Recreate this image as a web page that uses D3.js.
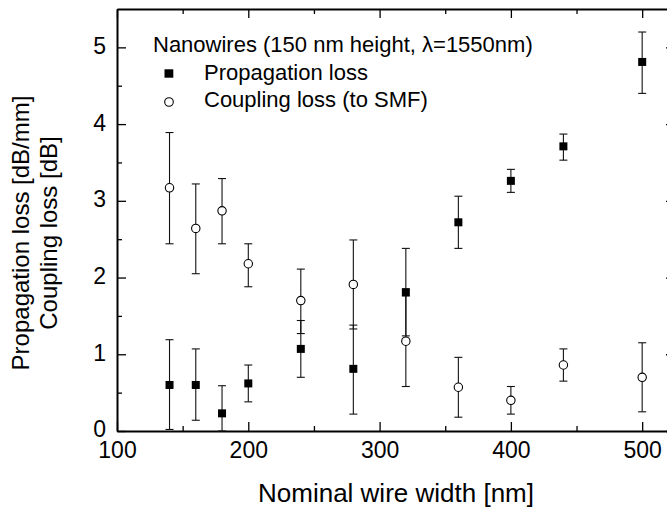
<!DOCTYPE html>
<html>
<head>
<meta charset="utf-8">
<script src="https://cdn.jsdelivr.net/npm/d3@7"></script>
<style>
  body { margin: 0; background: #fff; }
  svg { display: block; font-family: Arial, "Liberation Sans", sans-serif; }
</style>
</head>
<body>
<div id="chart"></div>
<script>
let width = 667;
let height = 508;
let margin = ({top: 9, right: -8, bottom: 77, left: 117});

// wire widths [nm]
let widths = [140, 160, 180, 200, 240, 280, 320, 360, 400, 440, 500];
// propagation loss [dB/mm] with error bar ends
let propLoss = [0.60, 0.60, 0.23, 0.62, 1.07, 0.81, 1.81, 2.72, 3.26, 3.71, 4.81];
let propLow  = [0.02, 0.14, 0.00, 0.38, 0.70, 0.22, 1.24, 2.38, 3.11, 3.53, 4.40];
let propHigh = [1.19, 1.07, 0.59, 0.86, 1.44, 1.38, 2.38, 3.06, 3.41, 3.87, 5.20];
// coupling loss [dB] with error bar ends
let coupLoss = [3.17, 2.64, 2.87, 2.18, 1.70, 1.91, 1.17, 0.57, 0.40, 0.86, 0.70];
let coupLow  = [2.44, 2.05, 2.44, 1.88, 1.27, 1.33, 0.58, 0.18, 0.22, 0.65, 0.25];
let coupHigh = [3.89, 3.22, 3.29, 2.44, 2.11, 2.49, 1.76, 0.96, 0.58, 1.07, 1.15];

let xMajor = [100, 200, 300, 400, 500];
let xMinor = [150, 250, 350, 450];
let yMajor = [0, 1, 2, 3, 4, 5];
let yMinor = [0.5, 1.5, 2.5, 3.5, 4.5];

let propData = widths.map((w, i) => ({w: w, v: propLoss[i], lo: propLow[i], hi: propHigh[i]}));
let coupData = widths.map((w, i) => ({w: w, v: coupLoss[i], lo: coupLow[i], hi: coupHigh[i]}));

let x = d3.scaleLinear()
    .domain([100, 525])
    .range([margin.left, width - margin.right]);
let y = d3.scaleLinear()
    .domain([0, 5.5])
    .range([height - margin.bottom, margin.top]);

let svg = d3.select("#chart")
    .append("svg")
    .attr("width", width)
    .attr("height", height);

// axes
function styleAxis(g) {
    g.select(".domain").attr("stroke", "#000").attr("stroke-width", 2);
    g.selectAll(".tick line").attr("stroke", "#000").attr("stroke-width", 1.3);
    g.selectAll(".tick text").attr("fill", "#000").style("font-size", "23px");
}

svg.append("g")
    .attr("transform", `translate(0,${y(0)})`)
    .call(d3.axisBottom(x).tickValues(xMajor).tickSizeInner(-9).tickSizeOuter(0).tickPadding(11).tickFormat(d3.format("d")))
    .call(styleAxis);
svg.append("g")
    .attr("transform", `translate(0,${y(0)})`)
    .call(d3.axisBottom(x).tickValues(xMinor).tickSize(-5).tickFormat(""))
    .call(g => g.select(".domain").remove())
    .call(styleAxis);

svg.append("g")
    .attr("transform", `translate(0,${y(5.5)})`)
    .call(d3.axisTop(x).tickValues(xMajor).tickSizeInner(-9).tickSizeOuter(0).tickFormat(""))
    .call(styleAxis);
svg.append("g")
    .attr("transform", `translate(0,${y(5.5)})`)
    .call(d3.axisTop(x).tickValues(xMinor).tickSize(-5).tickFormat(""))
    .call(g => g.select(".domain").remove())
    .call(styleAxis);

svg.append("g")
    .attr("transform", `translate(${x(100)},0)`)
    .call(d3.axisLeft(y).tickValues(yMajor).tickSizeInner(-9).tickSizeOuter(0).tickPadding(11).tickFormat(d3.format("d")))
    .call(styleAxis)
    .call(g => g.selectAll(".tick text").attr("dy", "0.26em"));
svg.append("g")
    .attr("transform", `translate(${x(100)},0)`)
    .call(d3.axisLeft(y).tickValues(yMinor).tickSize(-5).tickFormat(""))
    .call(g => g.select(".domain").remove())
    .call(styleAxis);

svg.append("g")
    .attr("transform", `translate(${x(525)},0)`)
    .call(d3.axisRight(y).tickValues(yMajor).tickSizeInner(-9).tickSizeOuter(0).tickFormat(""))
    .call(styleAxis);

// axis titles
svg.append("text")
    .attr("x", (x(100) + x(525)) / 2)
    .attr("y", 502)
    .attr("text-anchor", "middle")
    .style("font-size", "26px")
    .text("Nominal wire width [nm]");

let yTitle = svg.append("text")
    .attr("transform", "translate(0,233) rotate(-90)")
    .attr("text-anchor", "middle")
    .style("font-size", "24px");
yTitle.append("tspan").attr("x", 0).attr("y", 29).text("Propagation loss [dB/mm]");
yTitle.append("tspan").attr("x", 0).attr("y", 57).text("Coupling loss [dB]");

// error bars
function errorBars(data, cls) {
    let g = svg.append("g").attr("class", cls).attr("stroke", "#111").attr("stroke-width", 1.1);
    g.selectAll("line.bar")
        .data(data)
        .join("line")
        .attr("class", "bar")
        .attr("x1", d => x(d.w)).attr("x2", d => x(d.w))
        .attr("y1", d => y(d.lo)).attr("y2", d => y(d.hi));
    g.selectAll("line.capHi")
        .data(data)
        .join("line")
        .attr("class", "capHi")
        .attr("x1", d => x(d.w) - 4).attr("x2", d => x(d.w) + 4)
        .attr("y1", d => y(d.hi)).attr("y2", d => y(d.hi));
    g.selectAll("line.capLo")
        .data(data)
        .join("line")
        .attr("class", "capLo")
        .attr("x1", d => x(d.w) - 4).attr("x2", d => x(d.w) + 4)
        .attr("y1", d => y(d.lo)).attr("y2", d => y(d.lo));
}
errorBars(coupData, "coupErr");
errorBars(propData, "propErr");

// markers
svg.append("g")
    .selectAll("circle")
    .data(coupData)
    .join("circle")
    .attr("cx", d => x(d.w))
    .attr("cy", d => y(d.v))
    .attr("r", 4.2)
    .attr("fill", "#fff")
    .attr("stroke", "#000")
    .attr("stroke-width", 1.1);

svg.append("g")
    .selectAll("rect")
    .data(propData)
    .join("rect")
    .attr("x", d => x(d.w) - 4)
    .attr("y", d => y(d.v) - 4)
    .attr("width", 8)
    .attr("height", 8)
    .attr("fill", "#000");

// legend
let legend = svg.append("g").style("font-size", "22px");
legend.append("text")
    .attr("x", 153).attr("y", 52)
    .text("Nanowires (150 nm height, \u03bb=1550nm)");
legend.append("rect")
    .attr("x", 164.5).attr("y", 69.3).attr("width", 8.8).attr("height", 8.4)
    .attr("fill", "#000");
legend.append("text")
    .attr("x", 204).attr("y", 79.5)
    .text("Propagation loss");
legend.append("circle")
    .attr("cx", 169).attr("cy", 102).attr("r", 4.3)
    .attr("fill", "#fff").attr("stroke", "#000").attr("stroke-width", 1.1);
legend.append("text")
    .attr("x", 204).attr("y", 106.5)
    .text("Coupling loss (to SMF)");
</script>
</body>
</html>
